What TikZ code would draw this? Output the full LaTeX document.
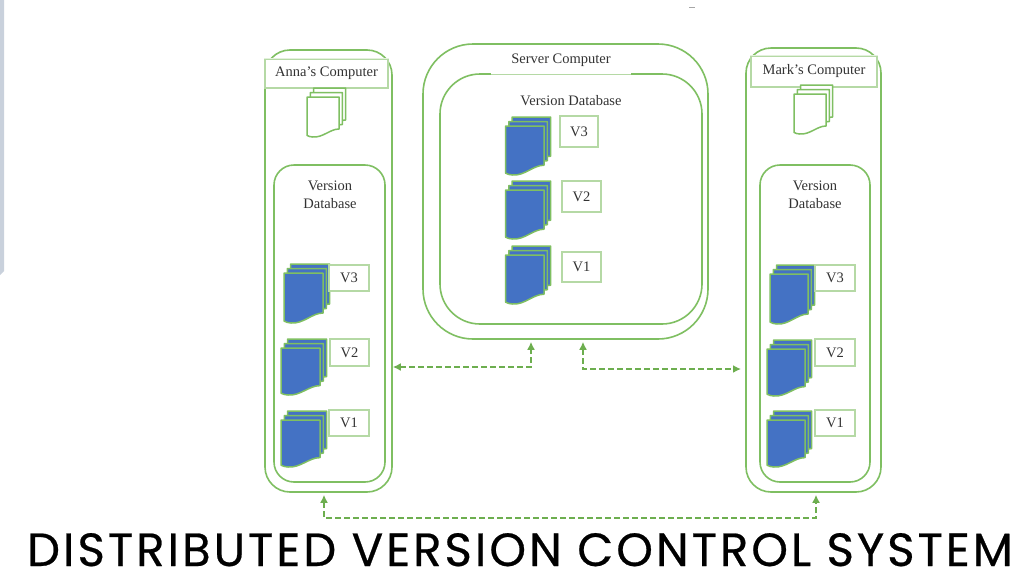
\documentclass[tikz,border=0pt]{standalone}
\usepackage{fontspec}
\setmainfont{Liberation Serif}
\newfontfamily\titlefont[LetterSpace=6.5,FakeBold=0.5]{Poppins}
\usetikzlibrary{arrows.meta,calc}
\definecolor{gline}{HTML}{7FBF62}
\definecolor{glabel}{HTML}{B5D9A5}
\definecolor{gfaint}{HTML}{E3F1DC}
\definecolor{gdark}{HTML}{6DAE4F}
\definecolor{bluedoc}{HTML}{4472C4}
\definecolor{sidebar}{HTML}{C9D1DC}
\tikzset{
  panel/.style={draw=gline,line width=1.6pt,fill=white,inner sep=0pt},
  tag/.style={draw=glabel,line width=1.1pt,fill=white,inner sep=0pt,font=\fontsize{14.5}{16}\selectfont,text=black!80},
  caption/.style={inner sep=0pt,font=\fontsize{14.5}{18.5}\selectfont,text=black!80,align=center},
  conn/.style={draw=gdark,line width=1.8pt,dash pattern=on 6pt off 3pt,shorten <=2pt,shorten >=2pt,{Latex[length=8pt,width=8pt]}-{Latex[length=8pt,width=8pt]}},
}
% #1 x, #2 y, #3 width, #4 height, #5 fill
\newcommand{\onepage}[5]{%
  \path[draw=gline,line width=1.5pt,fill=#5,line join=round]
    ({#1},{#2}) -- ({#1+#3},{#2}) -- ({#1+#3},{#2+0.8*#4})
    .. controls ({#1+0.72*#3},{#2+0.8*#4}) and ({#1+0.5*#3},{#2+1.02*#4}) .. ({#1+0.18*#3},{#2+#4})
    .. controls ({#1+0.1*#3},{#2+#4}) and ({#1+0.05*#3},{#2+0.98*#4}) .. ({#1},{#2+0.96*#4}) -- cycle;}
\newcommand{\docstack}[5]{%
  \onepage{#1+6.6}{#2-9}{#3}{#4}{#5}
  \onepage{#1+3.3}{#2-4.5}{#3}{#4}{#5}
  \onepage{#1}{#2}{#3}{#4}{#5}}
\newcommand{\tagbox}[6]{\node[tag,minimum width=#4,minimum height=#5] (#1) at (#2,#3) {#6\hspace{3pt}};}
\begin{document}
\begin{tikzpicture}[x=1pt,y=-1pt]
\useasboundingbox (0,0) rectangle (1024,576);
\fill[white] (0,0) rectangle (1024,576);
\fill[sidebar] (0,0) -- (4,0) -- (4,271) -- (0,275) -- cycle;
\fill[black!35] (689,6.6) rectangle (695,7.6);
% panels
\node[panel,rounded corners=25pt,minimum width=127pt,minimum height=442pt] (anna) at (328.5,271) {};
\node[panel,rounded corners=20pt,minimum width=111pt,minimum height=317pt] (annadb) at (329.5,323.5) {};
\node[panel,rounded corners=50pt,minimum width=285pt,minimum height=295pt] (server) at (565.5,191.5) {};
\node[panel,rounded corners=40pt,minimum width=262pt,minimum height=250pt] (serverdb) at (571,199) {};
\node[panel,rounded corners=25pt,minimum width=135pt,minimum height=444pt] (mark) at (813.5,270) {};
\node[panel,rounded corners=20pt,minimum width=110pt,minimum height=317pt] (markdb) at (815,323.5) {};
% headers
\node[tag,minimum width=123pt,minimum height=29pt] (annah) at (326.5,73.5) {Anna’s Computer};
\draw[gfaint,line width=1.5pt] (annah.north west) -- (annah.north east);
\node[tag,minimum width=126pt,minimum height=31pt] (markh) at (814,71.5) {Mark’s Computer};
\draw[gfaint,line width=1.5pt] (markh.north west) -- (markh.north east);
\node[caption,fill=white,minimum width=140pt,minimum height=28pt] (serverh) at (561,60.5) {Server Computer};
\draw[glabel,line width=1.3pt] (serverh.south west) -- (serverh.south east);
% captions
\node[caption] (annacap) at (330,195) {Version\\Database};
\node[caption] (markcap) at (815,195) {Version\\Database};
\node[caption] (servercap) at (571,101) {Version Database};
% white docs
\docstack{307}{97}{32}{40}{white}
\docstack{794}{94}{32}{40}{white}
% blue docs
\docstack{284}{273}{39}{50}{bluedoc}
\docstack{281}{348}{39}{47}{bluedoc}
\docstack{281}{420}{39}{47}{bluedoc}
\docstack{505.5}{126}{38.5}{49}{bluedoc}
\docstack{505.5}{190}{38.5}{49}{bluedoc}
\docstack{505.5}{255}{38.5}{49}{bluedoc}
\docstack{770}{274}{38}{50}{bluedoc}
\docstack{767}{349}{38}{47}{bluedoc}
\docstack{767}{420}{38}{47}{bluedoc}
% tags
\tagbox{a3}{349}{278}{40pt}{26pt}{V3}
\tagbox{a2}{349.5}{352.5}{39pt}{27pt}{V2}
\tagbox{a1}{349}{423}{40pt}{26pt}{V1}
\tagbox{s3}{579}{131.5}{38pt}{31pt}{V3}
\tagbox{s2}{581.5}{196.5}{39pt}{31pt}{V2}
\tagbox{s1}{581.5}{267}{39pt}{30pt}{V1}
\tagbox{m3}{835}{278}{40pt}{26pt}{V3}
\tagbox{m2}{835}{352.5}{40pt}{27pt}{V2}
\tagbox{m1}{835}{423}{40pt}{26pt}{V1}
% connectors
\coordinate (j1) at (531,367);
\coordinate (j2) at (583,369);
\coordinate (j3) at (324,518);
\coordinate (j4) at (816,518);
\coordinate (e2) at (743,369);
\draw[conn] ([xshift=-2pt]anna.east |- j1) -- (j1) -- (j1 |- server.south);
\draw[conn] (j2 |- server.south) -- (j2) -- (e2);
\draw[conn] (j3 |- anna.south) -- (j3) -- (j4) -- (j4 |- mark.south);
% title
\node[inner sep=0pt,anchor=base,font=\titlefont\fontsize{46.6}{48}\selectfont] (title) at (520,566) {DISTRIBUTED VERSION CONTROL SYSTEM};
\end{tikzpicture}
\end{document}
